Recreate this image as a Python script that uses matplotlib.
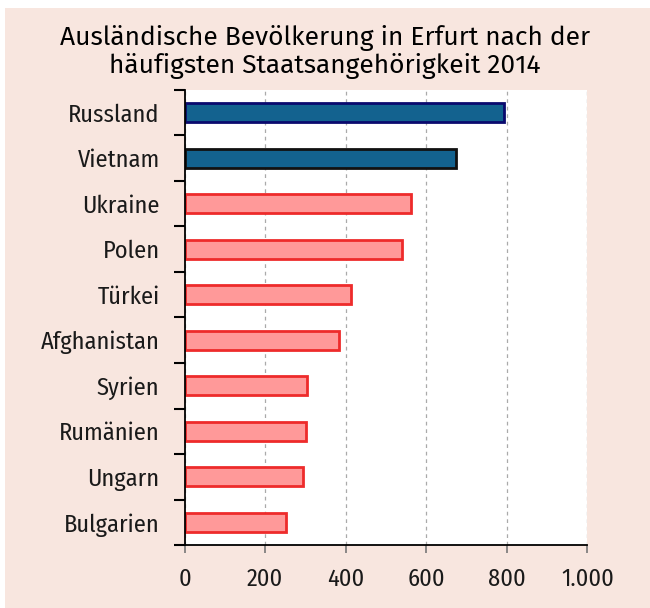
import matplotlib.pyplot as plt
from matplotlib.patches import Rectangle
import numpy as np

countries = ["Russland", "Vietnam", "Ukraine", "Polen", "Türkei",
             "Afghanistan", "Syrien", "Rumänien", "Ungarn", "Bulgarien"]
values = [794, 675, 561, 539, 413, 383, 304, 301, 295, 252]
xticks = [0, 200, 400, 600, 800, 1000]
xlabels = ["0", "200", "400", "600", "800", "1.000"]

plt.rcParams['font.family'] = ['Fira Sans Condensed', 'DejaVu Sans']

fig = plt.figure(figsize=(6.5, 6.08), dpi=100)
fig.patch.set_facecolor('white')
fig.patches.append(Rectangle((5/650, 0), 1, 600/608, transform=fig.transFigure,
                             facecolor='#f8e6df', edgecolor='none', zorder=-10))

ax = fig.add_axes([0.284, 0.1036, 0.6196, 0.7484])
ax.set_facecolor('white')

y = np.arange(len(countries))
fills = ['#13628f', '#13628f'] + ['#ff9999'] * 8
edges = ['#0a0a6e', '#111111'] + ['#ee2b2b'] * 8
ax.barh(y, values, height=0.42, color=fills, edgecolor=edges, linewidth=2, zorder=3)

ax.set_ylim(len(countries) - 0.5, -0.5)
ax.set_xlim(0, 1000)
ax.set_yticks(y)
ax.set_yticklabels(countries, fontsize=17.5, color='#1a1a1a')
ax.tick_params(axis='y', which='major', length=0, pad=18)
ax.set_yticks(np.arange(-0.5, len(countries)), minor=True)
ax.tick_params(axis='y', which='minor', length=8, width=1.5)
for i, t in enumerate(ax.yaxis.get_minor_ticks()):
    t.tick1line.set_color('#444444' if i % 2 == 0 else '#999999')

ax.set_xticks(xticks)
ax.set_xticklabels(xlabels, fontsize=17.5, color='#1a1a1a')
ax.tick_params(axis='x', length=6, width=1.2, color='#777777', pad=10)

ax.grid(axis='x', linestyle=(0, (3, 3)), color='#aaaaaa', linewidth=0.9, zorder=0)
for s in ['top', 'right']:
    ax.spines[s].set_visible(False)
ax.spines['left'].set_linewidth(1.3)
ax.spines['bottom'].set_linewidth(1.3)
ax.spines['left'].set_zorder(4)

fig.text(0.5, 0.914, "Ausländische Bevölkerung in Erfurt nach der\nhäufigsten Staatsangehörigkeit 2014",
         ha='center', va='center', fontsize=19, color='black', linespacing=1.1,
         family=['Fira Sans', 'DejaVu Sans'])

fig.savefig('out.png', dpi=100, facecolor=fig.get_facecolor())
